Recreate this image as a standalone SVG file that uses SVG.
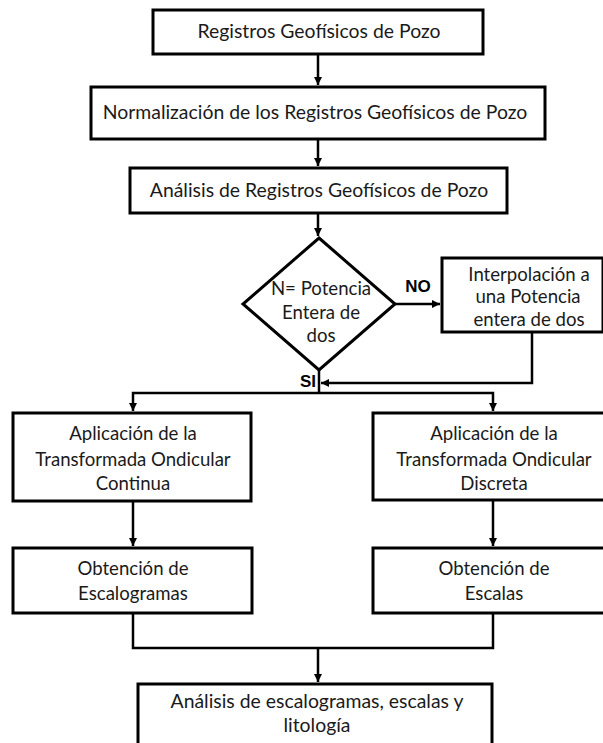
<svg xmlns="http://www.w3.org/2000/svg" width="603" height="743" viewBox="0 0 603 743">
<style>
.box{fill:#fff;stroke:#000;stroke-width:3}
.t{font-family:Lato,"Liberation Sans",sans-serif;font-size:18.6px;fill:#1a1a1a;text-anchor:middle}
.L{font-size:19.4px}
.b{font-family:"Liberation Sans",Arial,sans-serif;font-size:17px;font-weight:bold;fill:#000;text-anchor:middle}
.c{fill:none;stroke:#000;stroke-width:2.5}
</style>
<defs>
<marker id="ah" markerWidth="9" markerHeight="9" refX="8" refY="4" orient="auto" markerUnits="userSpaceOnUse">
<path d="M0,0 L8,4 L0,8 z" fill="#000"/>
</marker>
</defs>
<rect width="603" height="743" fill="#fff"/>
<g id="connectors">
<path class="c" d="M318,54 V85" marker-end="url(#ah)"/>
<path class="c" d="M318,139 V166" marker-end="url(#ah)"/>
<path class="c" d="M318,213 V236" marker-end="url(#ah)"/>
<path class="c" d="M395,304 H440" marker-end="url(#ah)"/>
<path class="c" d="M532,332 V383 H321" marker-end="url(#ah)"/>
<path class="c" d="M319,370 V393"/>
<path class="c" d="M319,393 H133 V411" marker-end="url(#ah)"/>
<path class="c" d="M319,393 H493 V411" marker-end="url(#ah)"/>
<path class="c" d="M133,501 V546" marker-end="url(#ah)"/>
<path class="c" d="M493,500 V546" marker-end="url(#ah)"/>
<path class="c" d="M133,613 V648 H493 V613"/>
<path class="c" d="M318,648 V682" marker-end="url(#ah)"/>
</g>
<g id="n1">
<rect class="box" x="153" y="10" width="330" height="44"/>
<text class="t L" x="319" y="38">Registros Geofísicos de Pozo</text>
</g>
<g id="n2">
<rect class="box" x="91" y="87" width="454" height="52"/>
<text class="t L" x="315" y="119">Normalización de los Registros Geofísicos de Pozo</text>
</g>
<g id="n3">
<rect class="box" x="130" y="168" width="377" height="45"/>
<text class="t L" x="319" y="197">Análisis de Registros Geofísicos de Pozo</text>
</g>
<g id="n4">
<polygon class="box" points="319,238 395,304 319,370 243,304"/>
<text class="t" x="321" y="295">N= Potencia</text>
<text class="t" x="321" y="319">Entera de</text>
<text class="t" x="321" y="342">dos</text>
</g>
<g id="n5">
<rect class="box" x="442" y="258" width="161" height="74"/>
<text class="t" x="529" y="281">Interpolación a</text>
<text class="t" x="528" y="303">una Potencia</text>
<text class="t" x="529" y="326">entera de dos</text>
</g>
<text class="b" x="418" y="292">NO</text>
<text class="b" x="316" y="387" style="text-anchor:end">SI</text>
<g id="n6">
<rect class="box" x="13" y="413" width="238" height="88"/>
<text class="t" x="133" y="440">Aplicación de la</text>
<text class="t" x="133" y="466">Transformada Ondicular</text>
<text class="t" x="133" y="490">Continua</text>
</g>
<g id="n7">
<rect class="box" x="373" y="413" width="240" height="87"/>
<text class="t" x="494" y="440">Aplicación de la</text>
<text class="t" x="494" y="466">Transformada Ondicular</text>
<text class="t" x="494" y="490">Discreta</text>
</g>
<g id="n8">
<rect class="box" x="13" y="548" width="239" height="65"/>
<text class="t" x="133" y="575">Obtención de</text>
<text class="t" x="133" y="600">Escalogramas</text>
</g>
<g id="n9">
<rect class="box" x="373" y="548" width="240" height="65"/>
<text class="t" x="494" y="575">Obtención de</text>
<text class="t" x="494" y="600">Escalas</text>
</g>
<g id="n10">
<rect class="box" x="138" y="684" width="354" height="80"/>
<text class="t L" x="317" y="708">Análisis de escalogramas, escalas y</text>
<text class="t L" x="317" y="732">litología</text>
</g>
</svg>
